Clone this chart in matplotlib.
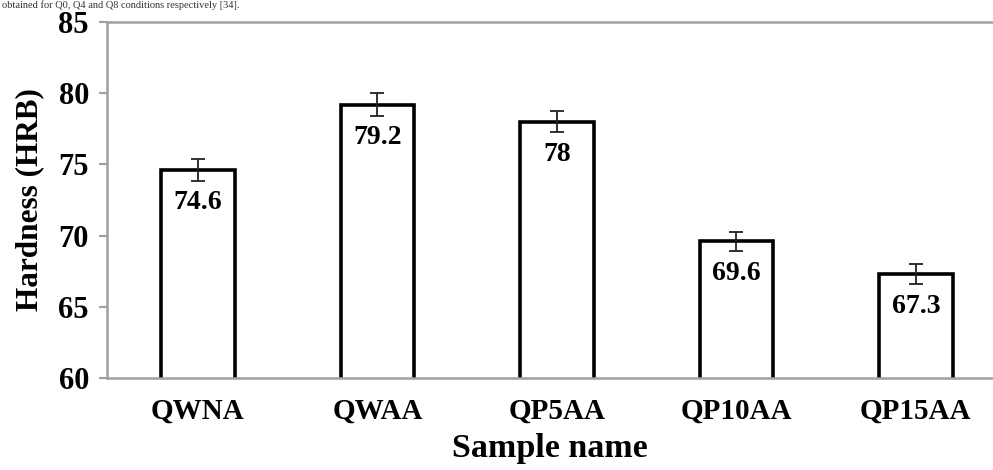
import matplotlib
matplotlib.use("Agg")
import matplotlib.pyplot as plt
import numpy as np

samples = ["QWNA", "QWAA", "QP5AA", "QP10AA", "QP15AA"]
hardness = [74.6, 79.2, 78.0, 69.6, 67.3]
hardness_err = [0.75, 0.8, 0.75, 0.65, 0.7]
value_labels = ["74.6", "79.2", "78", "69.6", "67.3"]
y_ticks = [60, 65, 70, 75, 80, 85]

plt.rcParams['font.family'] = ['Liberation Serif', 'DejaVu Serif']

fig = plt.figure(figsize=(9.93, 4.70), dpi=100)
ax = fig.add_axes([107/993, 92/470, 1 - 107/993, 356/470])

x = np.arange(len(samples))
ax.bar(x, hardness, width=0.41, color="white", edgecolor="black", linewidth=2.6, zorder=2)
ax.errorbar(x, hardness, yerr=hardness_err, fmt="none", ecolor="#222222",
            elinewidth=1.3, capsize=5, capthick=1.3, zorder=3)

for xi, v, lab in zip(x, hardness, value_labels):
    ax.annotate(lab, (xi, v), xytext=(0, -23.5), textcoords="offset points",
                ha="center", va="center", fontsize=20, fontweight="bold")

ax.set_xlim(-0.507, 4.43)
ax.set_ylim(60, 85)
ax.set_yticks(y_ticks)
ax.set_xticks(x)
ax.set_xticklabels(samples, fontsize=21, fontweight="bold")
ax.tick_params(axis="y", labelsize=22, length=6, width=1.5, color="#a0a0a0", pad=7)
ax.tick_params(axis="x", length=0, pad=14)
for lab in ax.get_yticklabels():
    lab.set_fontweight("bold")

for side in ["left", "top", "bottom"]:
    ax.spines[side].set_color("#a0a0a0")
    ax.spines[side].set_linewidth(1.8)
ax.spines["right"].set_visible(False)

ax.set_xlabel("Sample name", fontsize=24.5, fontweight="bold", labelpad=6)
ax.set_ylabel("Hardness (HRB)", fontsize=22.5, fontweight="bold", labelpad=10)

# caption line from the source page (cropped in the original)
fig.text(0.002, 0.999, "obtained for Q0, Q4 and Q8 conditions respectively [34].",
         fontsize=7.5, va="top", ha="left", color="#333333")

fig.savefig("out.png", dpi=100)
